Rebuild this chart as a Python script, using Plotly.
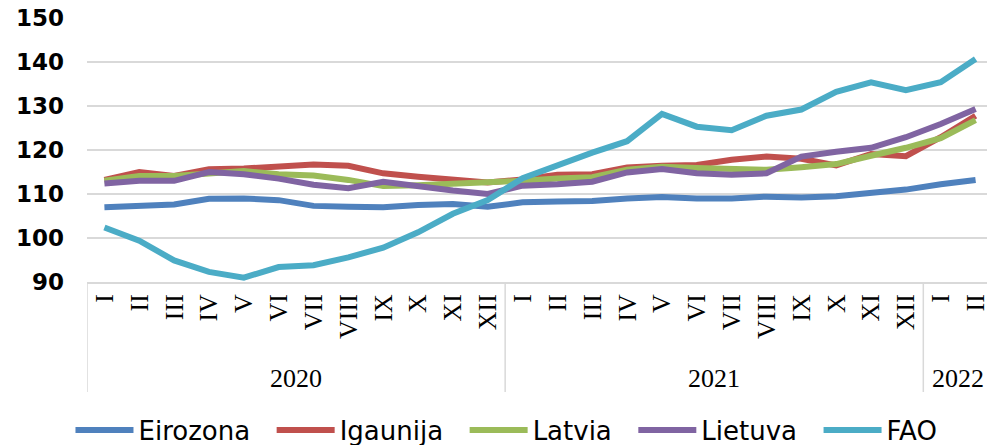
import plotly.graph_objects as go

months = ["I", "II", "III", "IV", "V", "VI", "VII", "VIII", "IX", "X", "XI", "XII",
          "I", "II", "III", "IV", "V", "VI", "VII", "VIII", "IX", "X", "XI", "XII",
          "I", "II"]
years = ["2020", "2021", "2022"]
year_counts = [12, 12, 2]

eirozona = [107.0, 107.4, 107.6, 108.9, 109.0, 108.6, 107.3, 107.1, 107.0, 107.5, 107.7, 107.1,
            108.1, 108.3, 108.4, 109.0, 109.3, 109.0, 109.0, 109.4, 109.2, 109.5, 110.2, 111.0,
            112.2, 113.2]
igaunija = [113.2, 115.0, 114.1, 115.6, 115.8, 116.3, 116.7, 116.4, 114.7, 113.9, 113.4, 112.6,
            113.3, 114.4, 114.5, 116.0, 116.4, 116.6, 117.8, 118.5, 118.0, 116.5, 119.1, 118.6,
            122.9, 127.8]
latvia = [113.0, 114.1, 114.1, 114.5, 115.2, 114.5, 114.2, 113.2, 111.8, 112.0, 112.3, 112.4,
          113.0, 113.5, 113.8, 115.5, 116.2, 115.9, 115.7, 115.5, 116.1, 116.8, 118.7, 120.5,
          122.7, 126.8]
lietuva = [112.4, 113.0, 113.0, 115.0, 114.5, 113.5, 112.1, 111.3, 112.8, 111.7, 110.8, 110.0,
           111.9, 112.2, 112.8, 114.9, 115.7, 114.7, 114.4, 114.7, 118.5, 119.6, 120.5, 122.9,
           125.9, 129.3]
fao = [102.4, 99.4, 94.9, 92.3, 91.0, 93.4, 93.8, 95.6, 97.8, 101.3, 105.5, 108.6,
       113.6, 116.6, 119.4, 122.0, 128.2, 125.3, 124.5, 127.8, 129.2, 133.2, 135.4, 133.6,
       135.4, 140.7]

series = [("Eirozona", eirozona, "#4F81BD"),
          ("Igaunija", igaunija, "#C0504D"),
          ("Latvia", latvia, "#9BBB59"),
          ("Lietuva", lietuva, "#8064A2"),
          ("FAO", fao, "#4BACC6")]

x = list(range(len(months)))

fig = go.Figure()
for i, (name, vals, color) in enumerate(series):
    pad = "\u00a0\u00a0" if i < len(series) - 1 else ""
    fig.add_trace(go.Scatter(x=x, y=vals, mode="lines", name=name + pad,
                             line=dict(color=color, width=6)))

PLOT_H = 264.0
def py(pix):
    return (282 - pix) / PLOT_H

start = 0
bounds = [-0.5]
for yr, n in zip(years, year_counts):
    center = start + (n - 1) / 2
    fig.add_annotation(x=center, y=py(378), xref="x", yref="paper", text=yr,
                       showarrow=False, yanchor="middle",
                       font=dict(family="Liberation Serif", size=26, color="black"))
    start += n
    bounds.append(start - 0.5)

for b in bounds[:-1]:
    fig.add_shape(type="line", xref="x", yref="paper", x0=b, x1=b, y0=0, y1=py(392),
                  line=dict(color="#D9D9D9", width=1.5))

fig.update_xaxes(range=[-0.5, len(months) - 0.5], tickmode="array", tickvals=x,
                 ticktext=months, tickangle=-90, showgrid=False, zeroline=False,
                 showline=True, linecolor="#D9D9D9", linewidth=1.5, ticks="",
                 automargin=False,
                 tickfont=dict(family="Liberation Serif", size=26, color="black"))
fig.update_yaxes(range=[90, 150], dtick=10, showgrid=True, gridcolor="#D9D9D9",
                 gridwidth=1.5, zeroline=False, showline=False, ticks="",
                 ticklabelstandoff=22, automargin=False, ticklabeloverflow="allow",
                 tickfont=dict(family="DejaVu Sans", size=23,
                               color="black", weight="bold"))

# page body has an 8px margin, so the figure is sized/offset to fit the 995x445 window
fig.update_layout(width=987, height=437,
                  margin=dict(l=79, r=2, t=10, b=163, autoexpand=False),
                  plot_bgcolor="white", paper_bgcolor="white",
                  showlegend=True,
                  legend=dict(orientation="h", x=0.463, xanchor="center", y=py(430),
                              yanchor="middle", itemwidth=58,
                              font=dict(family="DejaVu Sans", size=26, color="black")))

fig.write_html("out.html")
